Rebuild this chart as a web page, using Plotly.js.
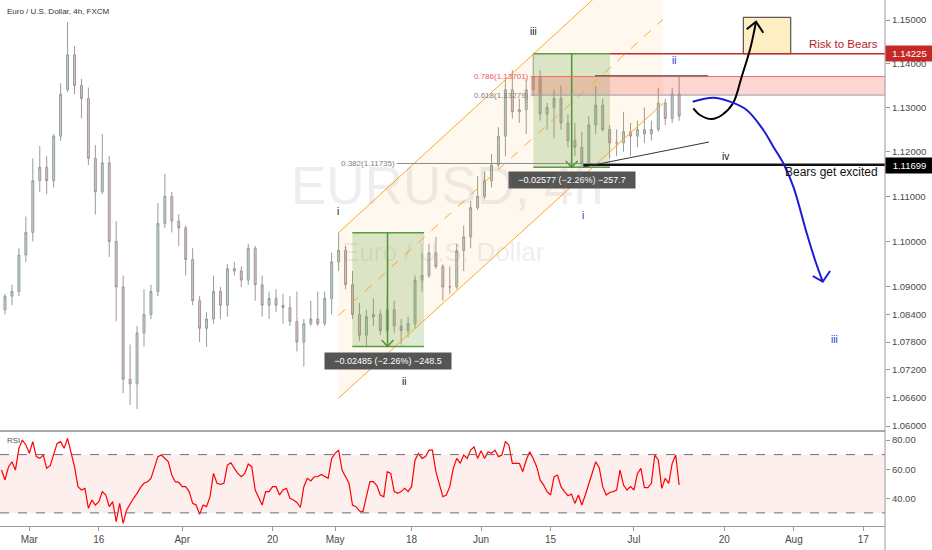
<!DOCTYPE html>
<html><head><meta charset="utf-8">
<script src="https://cdn.plot.ly/plotly-3.0.1.min.js"></script>
<style>html,body{margin:0;padding:0;background:#fff;}#chart{width:932px;height:550px;}</style>
</head><body><div id="chart"></div>
<script>
// ---------------- DATA ----------------
const dates = ['2020-02-25','2020-02-26','2020-02-27','2020-02-28',
 '2020-03-02','2020-03-03','2020-03-04','2020-03-05','2020-03-06','2020-03-09','2020-03-10','2020-03-11','2020-03-12','2020-03-13',
 '2020-03-16','2020-03-17','2020-03-18','2020-03-19','2020-03-20','2020-03-23','2020-03-24','2020-03-25','2020-03-26','2020-03-27',
 '2020-03-30','2020-03-31','2020-04-01','2020-04-02','2020-04-03','2020-04-06','2020-04-07','2020-04-08','2020-04-09','2020-04-10',
 '2020-04-13','2020-04-14','2020-04-15','2020-04-16','2020-04-17','2020-04-20','2020-04-21','2020-04-22','2020-04-23','2020-04-24',
 '2020-04-27','2020-04-28','2020-04-29','2020-04-30','2020-05-01','2020-05-04','2020-05-05','2020-05-06','2020-05-07','2020-05-08',
 '2020-05-11','2020-05-12','2020-05-13','2020-05-14','2020-05-15','2020-05-18','2020-05-19','2020-05-20','2020-05-21','2020-05-22',
 '2020-05-25','2020-05-26','2020-05-27','2020-05-28','2020-05-29','2020-06-01','2020-06-02','2020-06-03','2020-06-04','2020-06-05',
 '2020-06-08','2020-06-09','2020-06-10','2020-06-11','2020-06-12','2020-06-15','2020-06-16','2020-06-17','2020-06-18','2020-06-19',
 '2020-06-22','2020-06-23','2020-06-24','2020-06-25','2020-06-26','2020-06-29','2020-06-30','2020-07-01','2020-07-02','2020-07-03',
 '2020-07-06','2020-07-07','2020-07-08','2020-07-09'];
const open = [1.0850,1.0880,1.0890,1.0970,
 1.1020,1.1135,1.1165,1.1135,1.1235,1.1340,1.1420,1.1350,1.1320,1.1185,
 1.1110,1.1175,1.1000,1.0900,1.0700,1.0690,1.0800,1.0840,1.0890,1.1040,
 1.1100,1.1045,1.1030,1.0960,1.0870,1.0810,1.0830,1.0890,1.0860,1.0940,
 1.0935,1.0915,1.0985,1.0905,1.0860,1.0875,1.0860,1.0855,1.0825,1.0780,
 1.0820,1.0830,1.0820,1.0875,1.0955,1.0980,1.0905,1.0840,1.0795,1.0835,
 1.0840,1.0805,1.0850,1.0815,1.0805,1.0820,1.0915,1.0925,1.0975,1.0945,
 1.0900,1.0900,1.0980,1.1010,1.1075,1.1100,1.1135,1.1170,1.1235,1.1340,
 1.1290,1.1295,1.1340,1.1370,1.1285,1.1300,1.1320,1.1265,1.1225,1.1210,
 1.1175,1.1260,1.1305,1.1250,1.1220,1.1220,1.1245,1.1235,1.1250,1.1240,
 1.1250,1.1310,1.1275,1.1330];
const high = [1.0885,1.0905,1.0985,1.1055,
 1.1185,1.1213,1.1190,1.1240,1.1355,1.1495,1.1440,1.1365,1.1345,1.1215,
 1.1240,1.1190,1.1045,1.0925,1.0775,1.0815,1.0895,1.0905,1.1085,1.1150,
 1.1110,1.1060,1.1035,1.0985,1.0880,1.0845,1.0925,1.0900,1.0950,1.0955,
 1.0945,1.0995,1.0990,1.0925,1.0890,1.0895,1.0885,1.0880,1.0890,1.0830,
 1.0870,1.0890,1.0890,1.0975,1.1019,1.0990,1.0935,1.0865,1.0850,1.0875,
 1.0850,1.0885,1.0870,1.0830,1.0835,1.0925,1.0975,1.0995,1.1010,1.0950,
 1.0945,1.0995,1.1035,1.1090,1.1145,1.1155,1.1195,1.1255,1.1365,1.1385,
 1.1320,1.1365,1.1422,1.1385,1.1310,1.1340,1.1350,1.1285,1.1265,1.1245,
 1.1280,1.1349,1.1320,1.1260,1.1250,1.1290,1.1265,1.1270,1.1300,1.1270,
 1.1345,1.1320,1.1345,1.1371];
const low = [1.0840,1.0860,1.0880,1.0955,
 1.1000,1.1110,1.1105,1.1120,1.1225,1.1335,1.1330,1.1275,1.1170,1.1060,
 1.1105,1.0966,1.0825,1.0670,1.0645,1.0636,1.0770,1.0830,1.0880,1.1030,
 1.1020,1.0990,1.0925,1.0860,1.0780,1.0770,1.0820,1.0830,1.0835,1.0925,
 1.0900,1.0905,1.0870,1.0835,1.0830,1.0845,1.0820,1.0815,1.0760,1.0727,
 1.0815,1.0815,1.0815,1.0840,1.0935,1.0895,1.0830,1.0782,1.0770,1.0815,
 1.0795,1.0800,1.0800,1.0775,1.0790,1.0810,1.0890,1.0920,1.0940,1.0870,
 1.0885,1.0895,1.0935,1.0985,1.1070,1.1095,1.1120,1.1165,1.1190,1.1275,
 1.1265,1.1240,1.1325,1.1270,1.1250,1.1230,1.1250,1.1210,1.1190,1.1168,
 1.1165,1.1240,1.1245,1.1185,1.1190,1.1200,1.1190,1.1210,1.1220,1.1225,
 1.1245,1.1260,1.1265,1.1270];
const close = [1.0880,1.0890,1.0970,1.1020,
 1.1135,1.1165,1.1135,1.1235,1.1330,1.1420,1.1350,1.1320,1.1185,1.1110,
 1.1175,1.1000,1.0900,1.0700,1.0690,1.0800,1.0840,1.0890,1.1040,1.1100,
 1.1045,1.1030,1.0960,1.0870,1.0810,1.0830,1.0890,1.0860,1.0940,1.0935,
 1.0915,1.0985,1.0905,1.0860,1.0875,1.0860,1.0855,1.0825,1.0780,1.0820,
 1.0830,1.0820,1.0875,1.0955,1.0980,1.0905,1.0840,1.0795,1.0835,1.0840,
 1.0805,1.0850,1.0815,1.0805,1.0820,1.0915,1.0925,1.0975,1.0945,1.0900,
 1.0900,1.0980,1.1010,1.1075,1.1100,1.1135,1.1170,1.1235,1.1340,1.1290,
 1.1295,1.1340,1.1370,1.1285,1.1300,1.1320,1.1265,1.1225,1.1210,1.1175,
 1.1260,1.1305,1.1250,1.1220,1.1220,1.1245,1.1235,1.1250,1.1240,1.1250,
 1.1310,1.1275,1.1330,1.1280];

// RSI read every half trading day, starting 4 trading days before 2 Mar 2020
const rsiStartDay = -4;
const rsiStepDays = 0.5;
const rsi = [59.4,52.6,61.5,65.1,59.4,74.3,80.0,76.6,70.9,78.9,
 68.6,67.4,69.7,60.6,62.4,69.7,77.7,78.9,74.3,81.1,
 70.9,61.7,48.0,45.7,46.8,33.1,38.8,35.4,37.7,44.6,
 42.3,34.3,37.7,24.0,36.5,22.8,32.0,36.5,40.0,43.4,
 47.5,50.3,51.4,53.7,61.7,68.6,69.7,67.4,65.1,56.0,
 51.4,51.0,48.0,48.0,44.6,36.5,35.4,29.0,35.4,34.3,
 41.1,57.1,50.3,49.6,50.3,62.8,64.4,60.6,57.1,54.8,
 57.1,63.5,61.7,45.7,41.1,35.4,44.6,44.6,48.0,48.0,
 42.3,45.7,46.8,40.0,38.8,37.2,33.7,48.0,53.7,51.9,
 54.8,54.8,56.4,54.8,53.7,67.4,70.9,73.1,59.4,54.8,
 50.3,35.4,34.3,31.3,30.8,41.1,51.4,51.4,48.7,42.3,
 41.1,58.3,57.1,44.6,43.4,44.6,46.8,44.6,48.0,66.3,
 70.9,67.4,68.6,73.1,73.1,58.3,50.3,41.1,42.3,48.0,
 60.6,67.4,64.0,69.7,67.4,73.1,75.4,67.4,72.6,67.4,
 72.0,70.9,73.1,68.6,69.7,78.9,76.6,64.0,64.0,64.0,
 58.3,66.3,72.0,67.4,61.7,52.6,49.1,44.6,42.3,54.8,
 56.0,48.0,44.6,41.8,42.9,36.5,42.3,35.4,42.3,50.3,
 57.1,65.1,61.0,48.0,42.3,44.0,44.6,45.7,59.4,49.1,
 45.7,48.0,45.7,57.1,60.6,47.4,47.4,50.3,69.7,66.3,
 46.8,53.7,50.3,64.0,69.7,49.1];

const priceTicks = [1.06,1.066,1.072,1.078,1.084,1.09,1.10,1.11,1.12,1.13,1.14,1.15];
const rsiTicks = [40,60,80];
const timeTickDates = ['2020-03-02','2020-03-16','2020-04-01','2020-04-20','2020-05-01','2020-05-18','2020-06-01','2020-06-15','2020-07-01','2020-07-20','2020-08-03','2020-08-17'];
const timeTickLabels = ['Mar','16','Apr','20','May','18','Jun','15','Jul','20','Aug','17'];

// Key levels (prices)
const riskLevel = 1.14225;
const excitedLevel = 1.11699;
const fib786 = 1.13701, fib618 = 1.13279, fib382 = 1.11735;
const box1Top = 1.1019, box1Bottom = 1.07705;
const box2Top = 1.14225, box2Bottom = 1.11648;
const box1Label = '\u22120.02485 (\u22122.26%) \u2212248.5';
const box2Label = '\u22120.02577 (\u22122.26%) \u2212257.7';

// ---------------- helpers ----------------
// date for a (fractional) trading-day offset from 2 Mar 2020, weekends skipped
function tday(n){
  const whole = Math.floor(n), frac = n - whole;
  const d = new Date(Date.UTC(2020,2,2));
  const step = whole >= 0 ? 1 : -1; let cnt = Math.abs(whole);
  while(cnt > 0){ d.setUTCDate(d.getUTCDate()+step); const wd = d.getUTCDay(); if(wd !== 0 && wd !== 6) cnt--; }
  return new Date(d.getTime() + frac*86400000).toISOString().slice(0,19).replace('T',' ');
}
const L = Math.log10;
const FONT = 'Liberation Sans, Arial, sans-serif';
const FAR = 126;

function seg(pts, color, width, dash, fill, fillcolor){
  const t = {type:'scatter', mode:'lines', x: pts.map(p=>tday(p[0])), y: pts.map(p=>p[1]),
    line:{color: color, width: width, dash: dash || 'solid'}, hoverinfo:'skip', showlegend:false};
  if(fill){ t.fill = 'toself'; t.fillcolor = fillcolor; }
  return t;
}
function rect(d0,d1,p0,p1,fillcolor){
  return seg([[d0,p0],[d1,p0],[d1,p1],[d0,p1],[d0,p0]],'rgba(0,0,0,0)',0,null,true,fillcolor);
}

const traces = [];
// channel
const chStart = 44.46, chEnd = 91.18;
const chUp = [1.1019, 1.16974], chLo = [1.06591, 1.13089];
const chMid = [Math.sqrt(chUp[0]*chLo[0]), Math.sqrt(chUp[1]*chLo[1])];
traces.push(seg([[chStart,chUp[0]],[chEnd,chUp[1]],[chEnd,chLo[1]],[chStart,chLo[0]],[chStart,chUp[0]]],'rgba(0,0,0,0)',0,null,true,'rgba(255,170,40,0.08)'));
// green boxes
traces.push(rect(46.47,56.79,box1Bottom,box1Top,'rgba(90,165,60,0.22)'));
traces.push(rect(72.52,83.55,box2Bottom,box2Top,'rgba(90,165,60,0.22)'));
// fib zone
traces.push(rect(72.14,FAR,fib618,fib786,'rgba(244,67,54,0.22)'));
// yellow target box
traces.push(seg([[102.73,riskLevel],[109.56,riskLevel],[109.56,1.15062],[102.73,1.15062],[102.73,riskLevel]],'#333',1,null,true,'rgba(253,236,190,0.9)'));

// candles
traces.push({type:'candlestick', x: dates.map(d=>d+' 12:00'), open:open, high:high, low:low, close:close,
  increasing:{line:{color:'#939f98',width:1}, fillcolor:'#c6d0ca'},
  decreasing:{line:{color:'#a3969a',width:1}, fillcolor:'#d0c5c8'},
  whiskerwidth:0, hoverinfo:'skip', showlegend:false, xaxis:'x', yaxis:'y'});

// channel lines
traces.push(seg([[chStart,chUp[0]],[chEnd,chUp[1]]],'#ffa726',1));
traces.push(seg([[chStart,chLo[0]],[chEnd,chLo[1]]],'#ffa726',1));
traces.push(seg([[chStart,chMid[0]],[chEnd,chMid[1]]],'#ffa726',1,'dash'));
// box edges & arrows
[[46.47,56.79,box1Top,box1Bottom,51.54],[72.52,83.55,box2Top,box2Bottom,78.04]].forEach(b=>{
  traces.push(seg([[b[0],b[2]],[b[1],b[2]]],'#5c9c40',1.5));
  traces.push(seg([[b[0],b[3]],[b[1],b[3]]],'#5c9c40',1.5));
  traces.push(seg([[b[4],b[2]],[b[4],b[3]]],'#4e9432',1.5));
  traces.push(seg([[b[4]-0.85,b[3]*1.0013],[b[4],b[3]],[b[4]+0.85,b[3]*1.0013]],'#4e9432',1.5));
});
// fib lines
traces.push(seg([[72.14,fib786],[FAR,fib786]],'#ef6b6b',1));
traces.push(seg([[72.14,fib618],[FAR,fib618]],'#9a9ca4',1));
traces.push(seg([[52.86,fib382],[FAR,fib382]],'#8a8c94',1));
// levels
traces.push(seg([[83.55,riskLevel],[FAR,riskLevel]],'#c62828',1.5));
traces.push(seg([[79.7,excitedLevel],[FAR,excitedLevel]],'#111',2));
traces.push(seg([[81.4,1.1372],[97.65,1.1372]],'#444',1.2));
traces.push(seg([[79.7,1.11656],[97.8,1.12218]],'#333',1));
// black projection
traces.push({...seg([[95.54,1.12980],[96.50,1.12828],[98.19,1.12737],[99.67,1.12828],[101.25,1.13093],[102.50,1.13698],[103.8,1.14385],[104.56,1.14961]],'#000',2), line:{color:'#000',width:2,shape:'spline'}});
traces.push(seg([[103.22,1.14785],[104.56,1.14961],[105.61,1.14707]],'#000',2));
// blue projection
traces.push({...seg([[95.45,1.13130],[98.42,1.13221],[100.82,1.13130],[103.22,1.12941],[105.61,1.12489],[107.05,1.12112],[108.49,1.11740],[109.93,1.11216],[111.86,1.10180],[113.05,1.09592],[114.16,1.09115]],'#1c1cd6',2), line:{color:'#1c1cd6',width:2,shape:'spline'}});
traces.push(seg([[112.72,1.09240],[114.16,1.09115],[115.21,1.09349]],'#1c1cd6',2));

// RSI
traces.push({type:'scatter', mode:'lines', x: rsi.map((v,i)=>tday(rsiStartDay + i*rsiStepDays)), y: rsi,
  line:{color:'#ff0000', width:1.2}, xaxis:'x', yaxis:'y2', hoverinfo:'skip', showlegend:false});

const ann = [];
function txt(d, p, text, color, size, xanchor, extra){
  ann.push(Object.assign({x: tday(d), y: L(p), xref:'x', yref:'y', text: text, showarrow:false,
    xanchor: xanchor || 'center', yanchor:'middle', font:{family:FONT, size:size, color:color}}, extra||{}));
}
// wave labels
txt(44.35,1.10674,'i','#111',10);
txt(53.91,1.06945,'ii','#111',10);
txt(72.52,1.14746,'iii','#111',10);
txt(100.1,1.11888,'iv','#111',10);
txt(92.8,1.14080,'ii','#2a2ad8',10);
txt(79.7,1.10564,'i','#2a2ad8',10);
txt(115.9,1.07861,'iii','#2a2ad8',10);
// fib labels
txt(72.14,fib786,'0.786(1.13701)','#ec5a5a',8,'right');
txt(72.14,fib618,'0.618(1.13279)','#7d7f88',8,'right');
txt(52.86,fib382,'0.382(1.11735)','#7d7f88',8,'right');
// measure labels
txt(51.58,1.07396,box1Label,'#fff',9,'center',{bgcolor:'rgba(70,70,70,0.92)',borderpad:3,width:120});
txt(78.12,1.11361,box2Label,'#fff',9,'center',{bgcolor:'rgba(70,70,70,0.92)',borderpad:3,width:120});
// level texts
ann.push({xref:'paper', x:880/885, xanchor:'right', yref:'y', y:L(1.14447), yanchor:'middle', text:'Risk to Bears', showarrow:false, font:{family:FONT,size:11.5,color:'#b71c1c'}});
ann.push({xref:'paper', x:880/885, xanchor:'right', yref:'y', y:L(1.11544), yanchor:'middle', text:'Bears get excited', showarrow:false, font:{family:FONT,size:12,color:'#111'}});
// price tags
ann.push({xref:'paper', x:1, xanchor:'left', yref:'y', y:L(riskLevel), yanchor:'middle', text:riskLevel.toFixed(5), showarrow:false, bgcolor:'#c62828', borderpad:2, width:43, font:{family:FONT,size:9.5,color:'#fff'}});
ann.push({xref:'paper', x:1, xanchor:'left', yref:'y', y:L(excitedLevel), yanchor:'middle', text:excitedLevel.toFixed(5), showarrow:false, bgcolor:'#000', borderpad:2, width:43, font:{family:FONT,size:9.5,color:'#fff'}});
// watermark, titles
ann.push({xref:'paper', yref:'paper', x:0.505, y:0.648, xanchor:'center', yanchor:'middle', text:'EURUSD, 4h', showarrow:false, font:{family:FONT,size:53,color:'rgba(120,123,134,0.13)'}});
ann.push({xref:'paper', yref:'paper', x:0.5006, y:0.521, xanchor:'center', yanchor:'middle', text:'Euro / U.S. Dollar', showarrow:false, font:{family:FONT,size:26,color:'rgba(120,123,134,0.13)'}});
ann.push({xref:'paper', yref:'paper', x:0.0056, y:0.979, xanchor:'left', yanchor:'middle', text:'Euro / U.S. Dollar, 4h, FXCM', showarrow:false, font:{family:FONT,size:8,color:'#333'}});
ann.push({xref:'paper', yref:'paper', x:0.0056, y:0.1616, xanchor:'left', yanchor:'middle', text:'RSI', showarrow:false, font:{family:FONT,size:8,color:'#555'}});

const shapes = [
  {type:'rect', xref:'paper', yref:'y2', x0:0, x1:1, y0:30, y1:70, fillcolor:'rgba(242,80,80,0.09)', line:{width:0}, layer:'below'},
  {type:'line', xref:'paper', yref:'y2', x0:0, x1:1, y0:70, y1:70, line:{color:'#6a6d78', width:1, dash:'dash'}},
  {type:'line', xref:'paper', yref:'y2', x0:0, x1:1, y0:30, y1:30, line:{color:'#6a6d78', width:1, dash:'dash'}},
  {type:'line', xref:'paper', yref:'paper', x0:0, x1:1, y0:0.1806, y1:0.1806, line:{color:'#a8a8a8', width:2}},
  {type:'line', xref:'paper', yref:'paper', x0:1, x1:1, y0:-0.05, y1:1, line:{color:'#9a9a9a', width:1}}
];

const layout = {
  width:932, height:550, margin:{l:0, r:47, t:0, b:24},
  paper_bgcolor:'#fff', plot_bgcolor:'#fff', showlegend:false, hovermode:false, dragmode:false,
  boxgap:0.6,
  font:{family:FONT, color:'#4a4a4a'},
  xaxis:{type:'date', range:[tday(-4.22), tday(123.12)], rangebreaks:[{bounds:['sat','mon']}],
    tickmode:'array', tickvals:timeTickDates, ticktext:timeTickLabels, tickfont:{family:FONT,size:10,color:'#4a4a4a'},
    ticks:'outside', ticklen:4, tickcolor:'#9a9a9a', showgrid:false, zeroline:false, showline:true, linecolor:'#9a9a9a',
    anchor:'y2', rangeslider:{visible:false}, fixedrange:true},
  yaxis:{type:'log', domain:[0.1806,1], range:[L(1.058937), L(1.154625)], side:'right', anchor:'x',
    tickmode:'array', tickvals:priceTicks, ticktext:priceTicks.map(v=>v.toFixed(5)), tickfont:{family:FONT,size:9.5,color:'#4a4a4a'},
    ticks:'outside', ticklen:4, tickcolor:'#9a9a9a', showgrid:false, zeroline:false, showline:false, fixedrange:true},
  yaxis2:{domain:[0,0.1806], range:[21,86.2], side:'right', anchor:'x',
    tickmode:'array', tickvals:rsiTicks, ticktext:rsiTicks.map(v=>v.toFixed(2)), tickfont:{family:FONT,size:9.5,color:'#4a4a4a'},
    ticks:'outside', ticklen:4, tickcolor:'#9a9a9a', showgrid:false, zeroline:false, showline:false, fixedrange:true},
  annotations: ann, shapes: shapes
};
Plotly.newPlot('chart', traces, layout, {staticPlot:true, displayModeBar:false});
</script></body></html>
